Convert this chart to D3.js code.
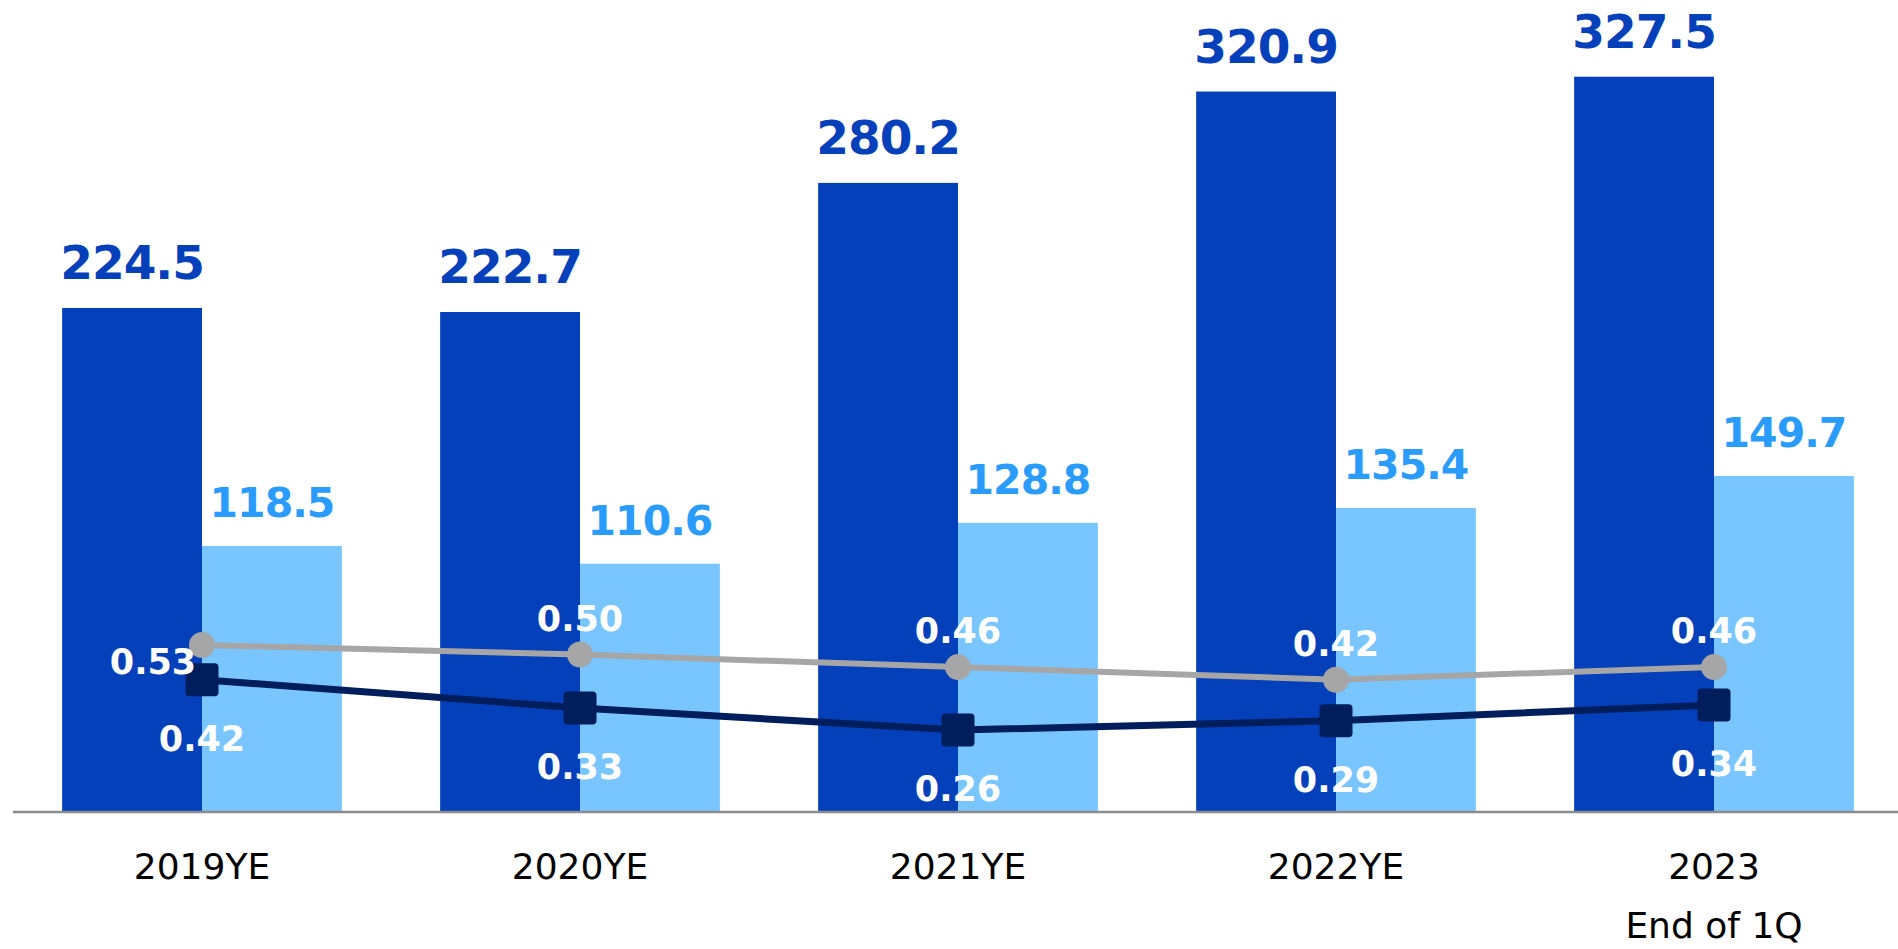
<!DOCTYPE html>
<meta charset="utf-8">
<style>
body {
    margin: 0;
    background: #fff;
  }
text {
    font-family: "DejaVu Sans", Verdana, sans-serif;
  }
</style>
<body>
  <script src="https://d3js.org/d3.v7.min.js"></script>
  <script type="text/javascript">

  // chart data
  var categories = ["2019YE", "2020YE", "2021YE", "2022YE", "2023"];
  var subLabels = ["", "", "", "", "End of 1Q"];
  var darkValues = [224.5, 222.7, 280.2, 320.9, 327.5];
  var lightValues = [118.5, 110.6, 128.8, 135.4, 149.7];
  var grayRatio = [0.53, 0.50, 0.46, 0.42, 0.46];
  var navyRatio = [0.42, 0.33, 0.26, 0.29, 0.34];

  var width = 1898,
      height = 949,
      baseY = 812;

  var svg = d3.select("body").append("svg")
    .attr("width", width)
    .attr("height", height);

  // x range
  var x = d3.scaleBand()
    .domain(categories)
    .range([13, 1903])
    .paddingInner(0.26)
    .paddingOuter(0.13);

  var xSub = d3.scaleBand()
    .domain(["dark", "light"])
    .range([0, x.bandwidth()]);

  // y range for bars and for ratio lines
  var y = d3.scaleLinear()
    .domain([0, 350])
    .range([baseY, baseY - 785.8]);

  var y2 = d3.scaleLinear()
    .domain([0, 1])
    .range([baseY, baseY - 315]);

  var rows = categories.map(function(c, i) {
    return {cat: c, sub: subLabels[i], dark: darkValues[i], light: lightValues[i],
            gray: grayRatio[i], navy: navyRatio[i]};
  });

  function mid(d) { return x(d.cat) + xSub("light"); }

  // bars
  var groups = svg.selectAll(".grp")
    .data(rows)
    .enter().append("g")
      .attr("class", "grp")
      .attr("transform", function(d) { return "translate(" + x(d.cat) + ",0)"; });

  groups.append("rect")
    .attr("x", xSub("dark"))
    .attr("width", xSub.bandwidth())
    .attr("y", function(d) { return y(d.dark); })
    .attr("height", function(d) { return y(0) - y(d.dark); })
    .attr("fill", "#0540BB");

  groups.append("rect")
    .attr("x", xSub("light"))
    .attr("width", xSub.bandwidth())
    .attr("y", function(d) { return y(d.light); })
    .attr("height", function(d) { return y(0) - y(d.light); })
    .attr("fill", "#78C5FF");

  // bar labels
  groups.append("text")
    .attr("x", xSub("dark") + xSub.bandwidth() / 2)
    .attr("y", function(d) { return y(d.dark) - 29; })
    .attr("text-anchor", "middle")
    .attr("font-size", "47px")
    .attr("letter-spacing", "-1px")
    .attr("font-weight", "bold")
    .attr("fill", "#0540BB")
    .text(function(d) { return d.dark.toFixed(1); });

  groups.append("text")
    .attr("x", xSub("light") + xSub.bandwidth() / 2)
    .attr("y", function(d) { return y(d.light) - 29; })
    .attr("text-anchor", "middle")
    .attr("font-size", "41px")
    .attr("letter-spacing", "-1px")
    .attr("font-weight", "bold")
    .attr("fill", "#2A9BFF")
    .text(function(d) { return d.light.toFixed(1); });

  // axis line
  svg.append("line")
    .attr("x1", 13)
    .attr("x2", width)
    .attr("y1", baseY)
    .attr("y2", baseY)
    .attr("stroke", "#8C8C8C")
    .attr("stroke-width", 2.5);

  // category labels
  svg.selectAll(".cat")
    .data(rows)
    .enter().append("text")
      .attr("class", "cat")
      .attr("x", mid)
      .attr("y", 879)
      .attr("text-anchor", "middle")
      .attr("font-size", "36px")
      .attr("fill", "#000")
      .text(function(d) { return d.cat; });

  svg.selectAll(".sub")
    .data(rows.filter(function(d) { return d.sub; }))
    .enter().append("text")
      .attr("class", "sub")
      .attr("x", mid)
      .attr("y", 938)
      .attr("text-anchor", "middle")
      .attr("font-size", "36px")
      .attr("fill", "#000")
      .text(function(d) { return d.sub; });

  // ratio lines
  var grayLine = d3.line().x(mid).y(function(d) { return y2(d.gray); });
  var navyLine = d3.line().x(mid).y(function(d) { return y2(d.navy); });

  svg.append("path")
    .datum(rows)
    .attr("d", grayLine)
    .attr("fill", "none")
    .attr("stroke", "#A6A6A6")
    .attr("stroke-width", 6);

  svg.append("path")
    .datum(rows)
    .attr("d", navyLine)
    .attr("fill", "none")
    .attr("stroke", "#001D5C")
    .attr("stroke-width", 7);

  svg.selectAll(".gdot")
    .data(rows)
    .enter().append("circle")
      .attr("class", "gdot")
      .attr("cx", mid)
      .attr("cy", function(d) { return y2(d.gray); })
      .attr("r", 13)
      .attr("fill", "#A6A6A6");

  svg.selectAll(".nsq")
    .data(rows)
    .enter().append("rect")
      .attr("class", "nsq")
      .attr("x", function(d) { return mid(d) - 16.5; })
      .attr("y", function(d) { return y2(d.navy) - 16.5; })
      .attr("width", 33)
      .attr("height", 33)
      .attr("rx", 4)
      .attr("fill", "#001D5C");

  // ratio labels
  svg.selectAll(".glab")
    .data(rows)
    .enter().append("text")
      .attr("class", "glab")
      .attr("x", function(d, i) { return mid(d) - (i === 0 ? 49 : 0); })
      .attr("y", function(d, i) { return y2(d.gray) + (i === 0 ? 29 : -24); })
      .attr("text-anchor", "middle")
      .attr("font-size", "35px")
      .attr("font-weight", "bold")
      .attr("fill", "#fff")
      .text(function(d) { return d.gray.toFixed(2); });

  svg.selectAll(".nlab")
    .data(rows)
    .enter().append("text")
      .attr("class", "nlab")
      .attr("x", mid)
      .attr("y", function(d) { return y2(d.navy) + 71; })
      .attr("text-anchor", "middle")
      .attr("font-size", "35px")
      .attr("font-weight", "bold")
      .attr("fill", "#fff")
      .text(function(d) { return d.navy.toFixed(2); });

  </script>
</body>
